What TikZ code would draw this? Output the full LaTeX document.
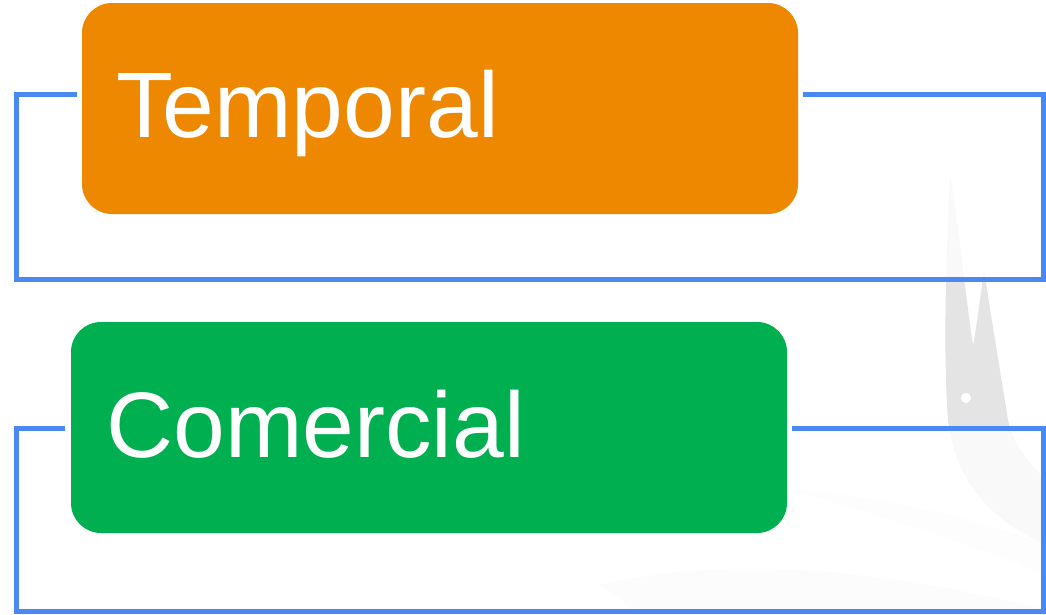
\documentclass[tikz,border=0pt]{standalone}
\usepackage{fontspec}
\setmainfont{Liberation Sans}
\usetikzlibrary{calc}
\definecolor{frameblue}{RGB}{74,137,242}
\definecolor{boxorange}{RGB}{238,136,0}
\definecolor{boxgreen}{RGB}{0,175,80}
\definecolor{markgray}{RGB}{228,228,228}
\tikzset{
  catbox/.style={rounded corners=30pt, minimum width=716pt, minimum height=211pt, inner sep=0pt, outer sep=0pt},
  cattext/.style={text=white, font=\fontsize{93}{100}\selectfont, anchor=base west, inner sep=0pt},
  frameline/.style={draw=frameblue, line width=5pt, line join=miter},
  framefill/.style={fill=white, fill opacity=0.8, draw=none}
}
\begin{document}
\begin{tikzpicture}[x=1pt,y=-1pt]
\useasboundingbox (0,0) rectangle (1046,614);
\begin{scope}
\clip (0,0) rectangle (1046,614);
% faint watermark
\fill[markgray] (950,175) .. controls (946,260) and (943,350) .. (948,420)
  .. controls (955,480) and (990,520) .. (1046,545) -- (1046,480)
  .. controls (1025,460) and (1012,440) .. (1008,420)
  .. controls (1000,370) and (990,310) .. (984,270)
  .. controls (980,300) and (976,330) .. (973,345)
  .. controls (966,300) and (958,220) .. (950,175) -- cycle;
\fill[white] (966,398) circle (5);
\fill[markgray!40] (600,585) .. controls (700,560) and (850,560) .. (1046,610) -- (1046,614) -- (640,614) -- cycle;
\fill[markgray!30] (790,490) .. controls (880,495) and (980,520) .. (1046,545) -- (1046,575) .. controls (960,540) and (880,515) .. (790,490) -- cycle;
\end{scope}

\fill[framefill] (16.5,94.5) rectangle (1043.5,279.5);
\fill[framefill] (16.5,428.5) rectangle (1043.5,611.5);

\node[catbox, fill=boxorange] (T) at (440,108.5) {};
\node[catbox, fill=boxgreen] (C) at (429,427.5) {};
\node[cattext] (Tt) at (116,137) {Temporal};
\node[cattext] (Ct) at (106,457) {Comercial};

\draw[frameline] ($(T.west)+(-5,-14)$) -- (16.5,94.5) -- (16.5,279.5) -- (1043.5,279.5) -- (1043.5,94.5) -- ($(T.east)+(5,-14)$);
\draw[frameline] ($(C.west)+(-6,1)$) -- (16.5,428.5) -- (16.5,611.5) -- (1043.5,611.5) -- (1043.5,428.5) -- ($(C.east)+(5,1)$);
\end{tikzpicture}
\end{document}
